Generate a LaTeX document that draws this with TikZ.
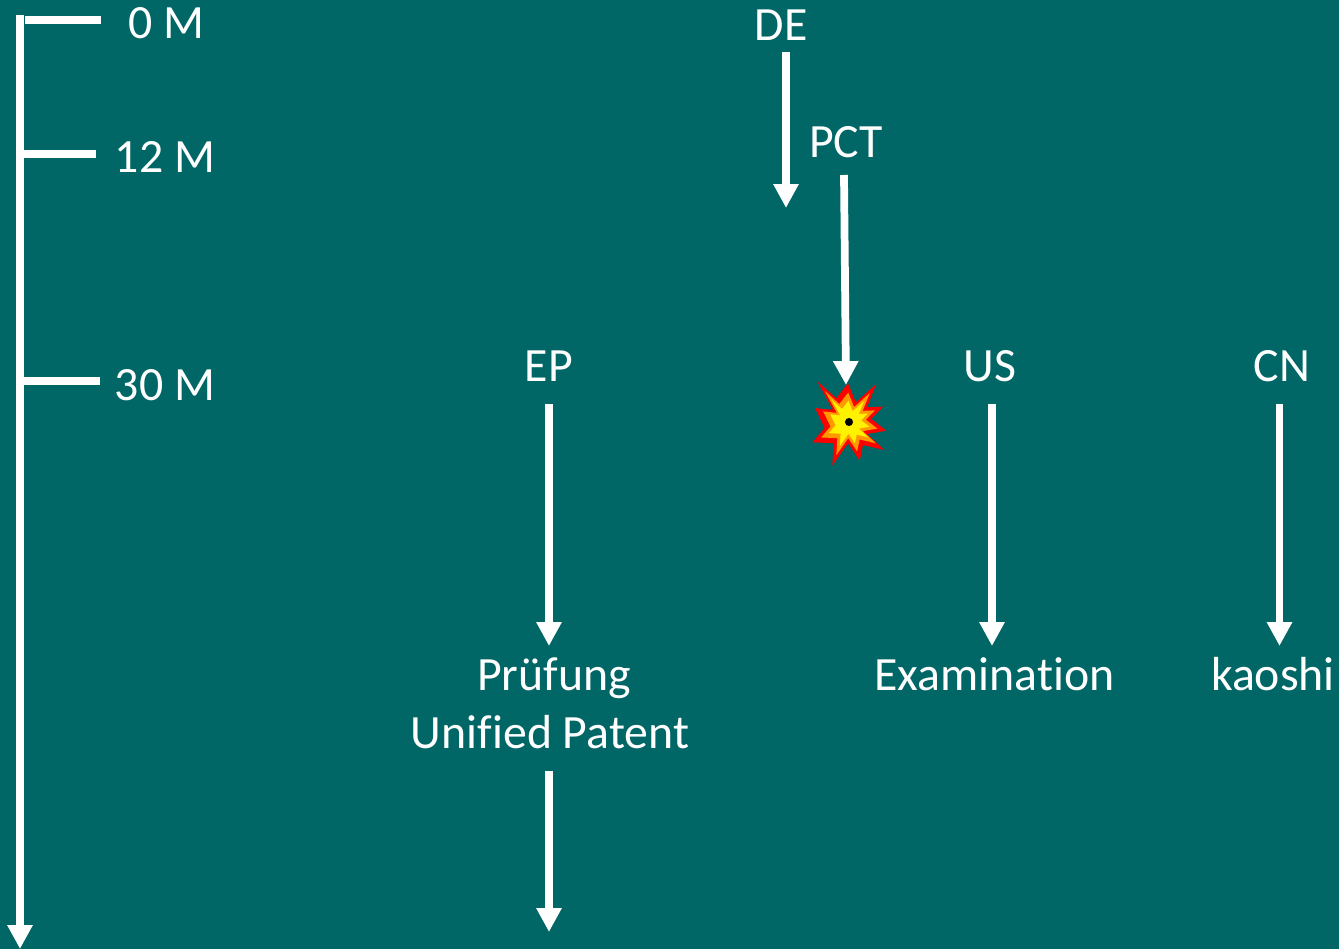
\documentclass[tikz,border=0pt]{standalone}
\usepackage{fontspec}
\setmainfont[Ligatures=NoCommon]{Carlito}
\definecolor{tealbg}{HTML}{006666}
\definecolor{burstorange}{HTML}{FF9900}
\usetikzlibrary{arrows.meta}
\tikzset{
	lbl/.style={text=white,font=\fontsize{27.2}{27.2}\selectfont,inner sep=0pt,text depth=0pt,anchor=base},
	arrowline/.style={draw=white,line width=4.4pt,-{Triangle[length=13.6pt,width=13.6pt]}},
	tickline/.style={draw=white,line width=4.4pt},
}
\newcommand{\burstpath}{(-31.7,-40.7)--(-12.7,-23.7)--(-1,-38.7)--(6.7,-19.7)--(27.3,-38)--(18,-14.7)--(34,-15.3)--(22.3,-3)--(37.3,8.7)--(18,12)--(35.3,28)--(14,23)--(10.7,38.7)--(-1,21.3)--(-16.7,43.7)--(-15.3,21.3)--(-36.7,20.3)--(-24.3,6)--(-34,-14)--(-16,-12)--cycle}
\begin{document}
\begin{tikzpicture}[x=0.02cm,y=-0.02cm]
	\useasboundingbox[fill=tealbg] (0,0) rectangle (1339,949);
	% time axis
	\coordinate (axistop) at (20,15);
	\coordinate (axisend) at (20,949);
	\draw[arrowline] (axistop) -- (axisend);
	\node[lbl](m0) at (166,39) {0 M};
	\node[lbl](m12) at (165,173) {12 M};
	\node[lbl](m30) at (165,401) {30 M};
	\coordinate (t0a) at (25,20);
	\coordinate (t0b) at (101,20);
	\coordinate (t12a) at (23,154);
	\coordinate (t12b) at (96,154);
	\coordinate (t30a) at (23,381);
	\coordinate (t30b) at (100,381);
	\draw[tickline] (t0a) -- (t0b);
	\draw[tickline] (t12a) -- (t12b);
	\draw[tickline] (t30a) -- (t30b);
	% offices
	\node[lbl](de) at (781,41) {DE};
	\node[lbl](pct) at (846,158) {PCT};
	\node[lbl](ep) at (549,382) {EP};
	\node[lbl](us) at (990,382) {US};
	\node[lbl](cn) at (1282,382) {CN};
	\node[lbl](pruefung) at (554,690) {Prüfung};
	\node[lbl](unified) at (550,748) {Unified Patent};
	\node[lbl](exam) at (994.5,690) {Examination};
	\node[lbl](kaoshi) at (1273,690) {kaoshi};
	\coordinate (deend) at (786,208);
	\coordinate (pctstart) at (844,175);
	\coordinate (pctend) at (846,385);
	\coordinate (epend) at (549,646);
	\coordinate (usend) at (992,646);
	\coordinate (cnend) at (1279.5,646);
	\coordinate (unifiedend) at (549,932);
	\draw[arrowline,shorten <=6.2pt] (de.south -| deend) -- (deend);
	\draw[arrowline] (pctstart) -- (pctend);
	\draw[arrowline,shorten <=12.5pt] (ep.south -| epend) -- (epend);
	\draw[arrowline,shorten <=12.5pt] (us.south -| usend) -- (usend);
	\draw[arrowline,shorten <=12.5pt] (cn.south -| cnend) -- (cnend);
	\draw[arrowline,shorten <=13pt] (unified.south -| unifiedend) -- (unifiedend);
	% burst
	\foreach \s/\c in {1/red,0.76/burstorange,0.55/yellow}
		\fill[\c,shift={(849,422)},scale=\s] \burstpath;
	\node[circle,fill=black,inner sep=0pt,minimum size=4.6pt](burst) at (849,422) {};
\end{tikzpicture}
\end{document}
